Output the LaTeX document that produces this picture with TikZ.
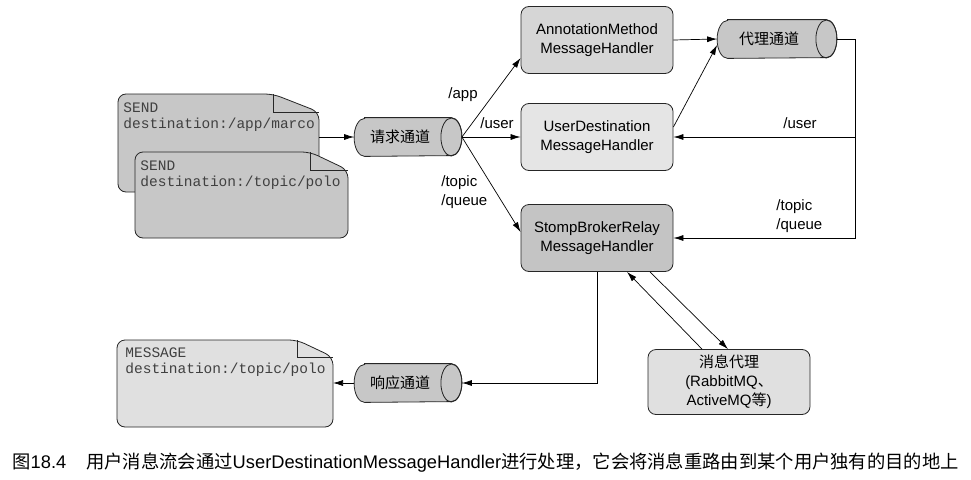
\documentclass[tikz,border=0pt]{standalone}
\usepackage{fontspec}
\setmainfont{Liberation Sans}
\newfontfamily\cjk{Noto Sans CJK SC}
\newfontfamily\monof{Liberation Mono}
\usetikzlibrary{arrows.meta,calc}
\definecolor{cylfill}{gray}{0.78}
\definecolor{annfill}{gray}{0.84}
\definecolor{userfill}{gray}{0.90}
\definecolor{stompfill}{gray}{0.77}
\definecolor{brokerfill}{gray}{0.88}
\definecolor{sendfill}{gray}{0.78}
\definecolor{msgfill}{gray}{0.88}
\definecolor{edge}{gray}{0.15}
\newcommand\mycyl[5]{%
  \node[minimum width=#4, minimum height=38pt, inner sep=0pt] (#1) at (#2,#3) {};
  \filldraw[fill=cylfill, draw=edge] ([xshift=10.5pt]#1.north west) -- ([xshift=-10.5pt]#1.north east)
    arc[start angle=90,end angle=-90,x radius=10.5pt,y radius=19pt] -- ([xshift=10.5pt]#1.south west)
    arc[start angle=270,end angle=90,x radius=10.5pt,y radius=19pt] -- cycle;
  \draw[draw=edge] ([xshift=-10.5pt]#1.east) ellipse[x radius=10.5pt,y radius=19pt];
  \node[font=\cjk\fontsize{15}{17}\selectfont, inner sep=0pt] (#1-t) at ([xshift=-8pt]#1.center) {#5};
}
\newcommand\mydoc[7]{%
  \filldraw[fill=#7, draw=edge, rounded corners=8pt] (#1,#2) -- (#5,#2) -- (#3,#6) -- (#3,#4) -- (#1,#4) -- cycle;
  \draw[draw=edge] (#5,#2) -- (#5,#6) -- (#3,#6);
}
\begin{document}
\begin{tikzpicture}[x=1pt,y=-1pt, line width=0.8pt,
  arr/.style={-{Latex[length=10pt,width=6pt]}, line width=0.7pt, draw=black},
  hbox/.style={draw=edge, rounded corners=8pt, align=center, font=\fontsize{15}{19}\selectfont,
    minimum width=152pt, minimum height=67pt, inner sep=0pt},
  lbl/.style={font=\fontsize{15}{19}\selectfont, inner sep=0pt, align=left},
  doctext/.style={font=\monof\fontsize{14.5}{16}\selectfont, text=black!75, align=left, inner sep=0pt, anchor=north west}]
\useasboundingbox (0,0) rectangle (971,479);
\fill[white] (0,0) rectangle (971,479);

% documents
\mydoc{118}{94}{319}{192}{273}{112}{sendfill}
\node[doctext] (send1) at (123,102) {SEND\\destination:/app/marco};
\mydoc{135}{152}{348}{238}{310}{170}{sendfill}
\node[doctext] (send2) at (140,160.5) {SEND\\destination:/topic/polo};
\mydoc{117}{340}{333}{427}{297}{357}{msgfill}
\node[doctext] (msg) at (125,347.5) {MESSAGE\\destination:/topic/polo};
\coordinate (d1r) at (319,137);
\coordinate (msgr) at (333,383);

% channels
\mycyl{req}{408}{137}{107pt}{请求通道}
\mycyl{proxy}{777}{39}{119pt}{代理通道}
\mycyl{resp}{408}{383}{107pt}{响应通道}

% handlers
\node[hbox, fill=annfill] (ann) at (597,40) {AnnotationMethod\\MessageHandler};
\node[hbox, fill=userfill] (user) at (597,137) {UserDestination\\MessageHandler};
\node[hbox, fill=stompfill] (stomp) at (597,238) {StompBrokerRelay\\MessageHandler};
\node[hbox, fill=brokerfill, minimum width=162pt, minimum height=65pt] (broker) at (729,382)
  {{\cjk 消息代理}\\(RabbitMQ{\cjk 、}\\ActiveMQ{\cjk 等})};

% connectors
\draw[arr] (d1r) -- (req.west);
\draw[arr] (req.east) -- ([yshift=-18pt]ann.west);
\draw[arr] (req.east) -- (user.west);
\draw[arr] (req.east) -- ([yshift=6pt]stomp.west);
\node[lbl] (lapp) at (463,95) {/app};
\node[lbl] (luser1) at (497,123) {/user};
\node[lbl, anchor=west] (ltq1) at (441,192) {/topic\\/queue};

\draw[arr] (ann.east) -- (proxy.west);
\draw[arr] ([yshift=10pt]user.east) -- ([yshift=-6pt]proxy.west);
\coordinate (bend) at (855,238);
\coordinate (branch) at (855,137);
\draw[arr] (proxy.east) -| (bend) -- (stomp.east);
\draw[arr] (branch) -- (user.east);
\node[lbl] (luser2) at (800,123) {/user};
\node[lbl, anchor=west] (ltq2) at (776,216) {/topic\\/queue};

\draw[arr] (stomp.south) |- (resp.east);
\draw[arr] (resp.west) -- (msgr);
\draw[arr] ([xshift=-27pt]broker.north) -- ([xshift=30pt]stomp.south);
\draw[arr] ([xshift=53pt]stomp.south) -- ([xshift=-1pt]broker.north);

% caption
\node[anchor=west, inner sep=0pt, font=\fontsize{18.3}{20}\selectfont] (cap) at (12,463)
  {{\cjk 图}18.4\hspace{20pt}{\cjk 用户消息流会通过}UserDestinationMessageHandler{\cjk 进行处理，它会将消息重路由到某个用户独有的目的地上}};
\end{tikzpicture}
\end{document}
